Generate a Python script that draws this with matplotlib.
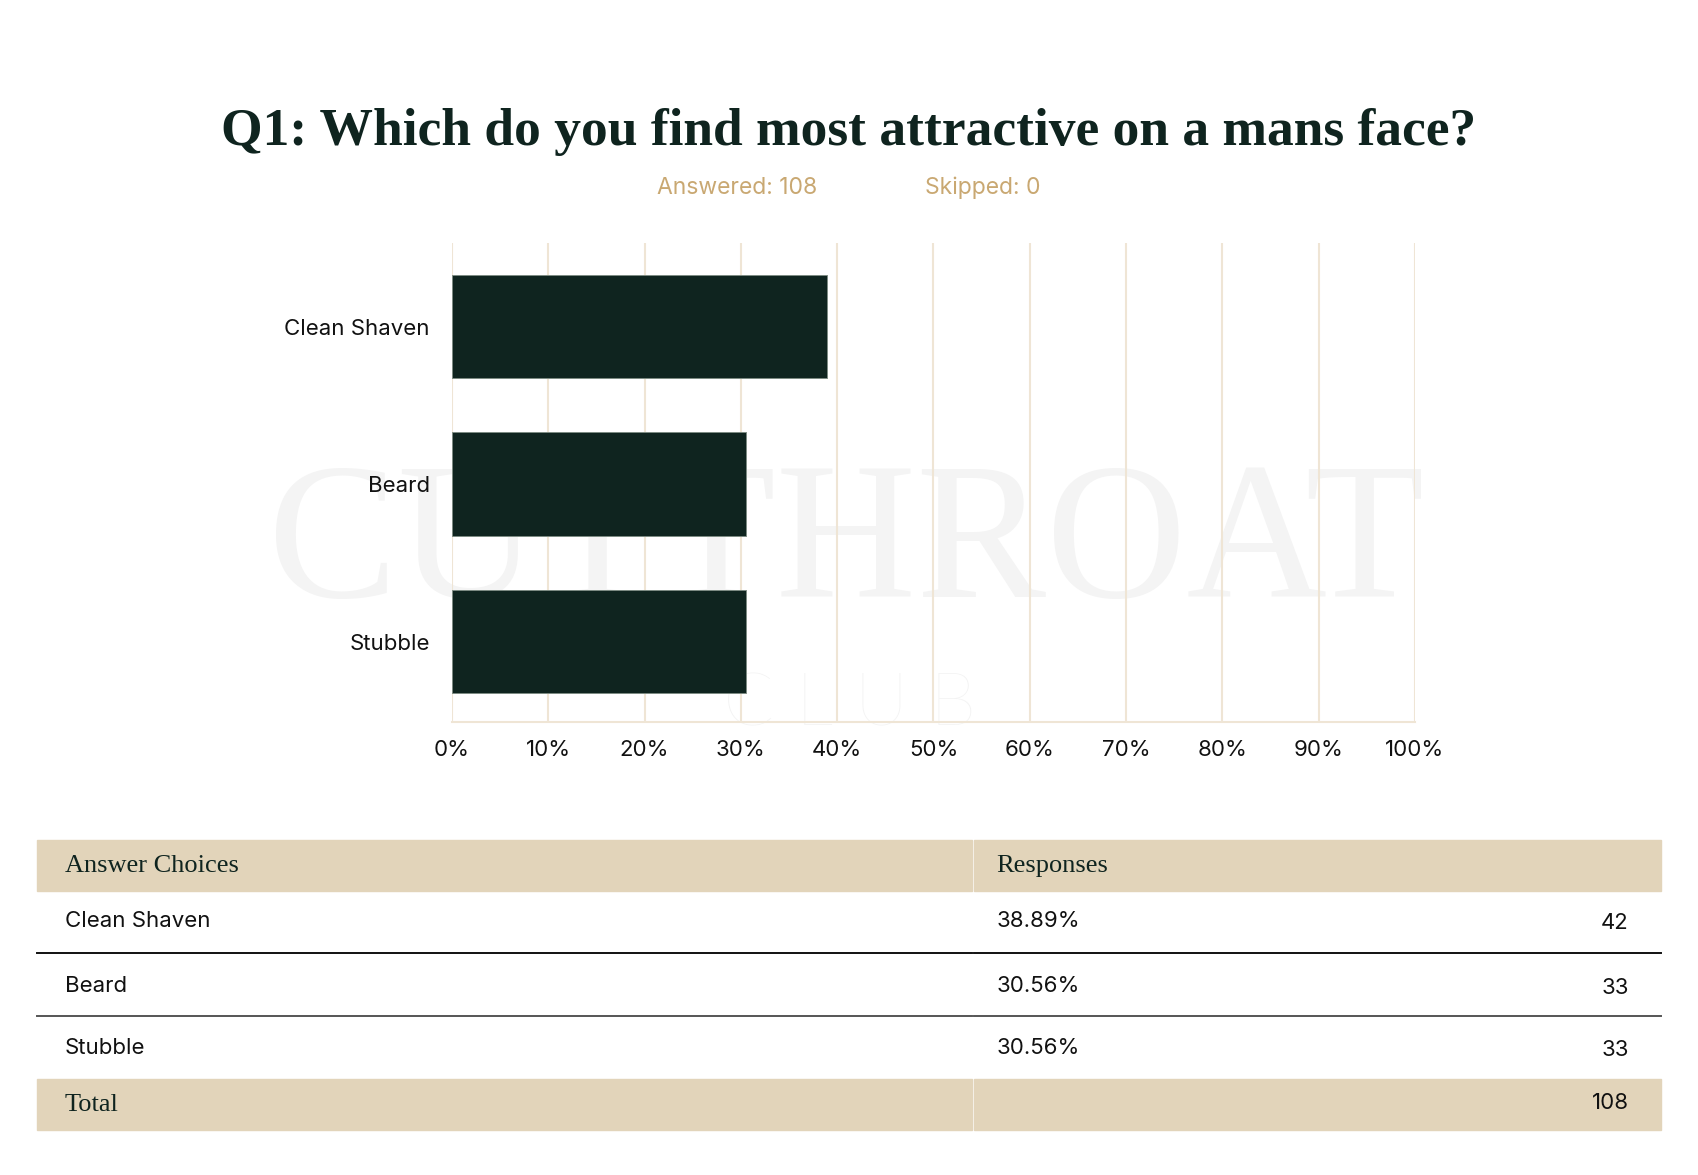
import matplotlib.pyplot as plt
from matplotlib.patches import Rectangle

# survey data
choices = ['Clean Shaven', 'Beard', 'Stubble']
pcts = [38.89, 30.56, 30.56]
counts = [42, 33, 33]
answered = 108
skipped = 0
xticks = list(range(0, 101, 10))

dark = '#0F241F'
tan = '#C9A872'
beige = '#E2D4BA'
grid_c = '#EFE5D5'

W, H = 1699, 1175
fig = plt.figure(figsize=(W / 100, H / 100), dpi=100)
fig.patch.set_facecolor('white')

# full-figure canvas in pixel coords for title, watermark and table
bg = fig.add_axes([0, 0, 1, 1], zorder=0)
bg.set_xlim(0, W)
bg.set_ylim(H, 0)
bg.axis('off')

# watermark
bg.text(846, 550, 'CUTTHROAT', ha='center', va='center', fontsize=140,
        family='Liberation Serif', color='#F4F4F4')
bg.text(850, 705, 'C L U B', ha='center', va='center', fontsize=54,
        family=['Lato', 'DejaVu Sans'], fontweight='light', color='#F3F3F3')

# title + subtitle
bg.text(849, 132, 'Q1: Which do you find most attractive on a mans face?',
        ha='center', va='center', fontsize=38.5, fontweight='bold',
        family='Liberation Serif', color=dark)
bg.text(737, 188, f'Answered: {answered}', ha='center', va='center',
        fontsize=16.5, family='Inter', color=tan)
bg.text(983, 188, f'Skipped: {skipped}', ha='center', va='center',
        fontsize=16.5, family='Inter', color=tan)

# chart
ax = fig.add_axes([452 / W, 1 - 722 / H, (1415 - 452) / W, (722 - 243) / H],
                  zorder=1)
ax.patch.set_visible(False)
ypos = list(range(len(choices)))
ax.barh(ypos, pcts, height=0.655, color=dark, edgecolor='#7d8b83',
        linewidth=0.7, zorder=3)
ax.set_xlim(0, 100)
ax.set_ylim(2.51, -0.53)
ax.set_xticks(xticks)
ax.set_xticklabels([f'{t}%' for t in xticks])
ax.set_yticks(ypos)
ax.set_yticklabels(choices)
ax.grid(axis='x', color=grid_c, linewidth=1.5, zorder=0)
for s in ['top', 'right', 'left']:
    ax.spines[s].set_visible(False)
ax.spines['bottom'].set_color(grid_c)
ax.spines['bottom'].set_linewidth(1.5)
ax.tick_params(axis='both', length=0, labelsize=16, colors='#111111')
ax.tick_params(axis='x', pad=13)
ax.tick_params(axis='y', pad=16)
for lab in ax.get_xticklabels() + ax.get_yticklabels():
    lab.set_family('Inter')

# table
x0, xs, x1 = 37, 973, 1661
bg.add_patch(Rectangle((x0, 840), xs - 1 - x0, 51, color=beige, zorder=1))
bg.add_patch(Rectangle((xs + 1, 840), x1 - xs - 1, 51, color=beige, zorder=1))
bg.add_patch(Rectangle((x0, 1079), xs - 1 - x0, 51, color=beige, zorder=1))
bg.add_patch(Rectangle((xs + 1, 1079), x1 - xs - 1, 51, color=beige, zorder=1))
bg.text(65, 866, 'Answer Choices', va='center', fontsize=19,
        family='Liberation Serif', color=dark, zorder=2)
bg.text(996, 866, 'Responses', va='center', fontsize=19,
        family='Liberation Serif', color=dark, zorder=2)

row_y = [921, 986, 1048]
line_y = [953, 1016]
line_c = ['#111111', '#555555']
for i, name in enumerate(choices):
    y = row_y[i]
    bg.text(65, y, name, va='center', fontsize=16, family='Inter', color='#111111')
    bg.text(997, y, f'{pcts[i]:.2f}%', va='center', fontsize=16, family='Inter',
            color='#111111')
    bg.text(1629, y + 2, str(counts[i]), va='center', ha='right', fontsize=16,
            family='Inter', color='#111111')
for ly, lc in zip(line_y, line_c):
    bg.plot([x0, xs - 1], [ly, ly], color=lc, lw=1.4)
    bg.plot([xs + 1, x1], [ly, ly], color=lc, lw=1.4)
bg.text(65, 1105, 'Total', va='center', fontsize=19, family='Liberation Serif',
        color=dark, zorder=2)
bg.text(1629, 1103, str(sum(counts)), va='center', ha='right', fontsize=16,
        family='Inter', color='#111111', zorder=2)

fig.savefig('out.png', dpi=100)
